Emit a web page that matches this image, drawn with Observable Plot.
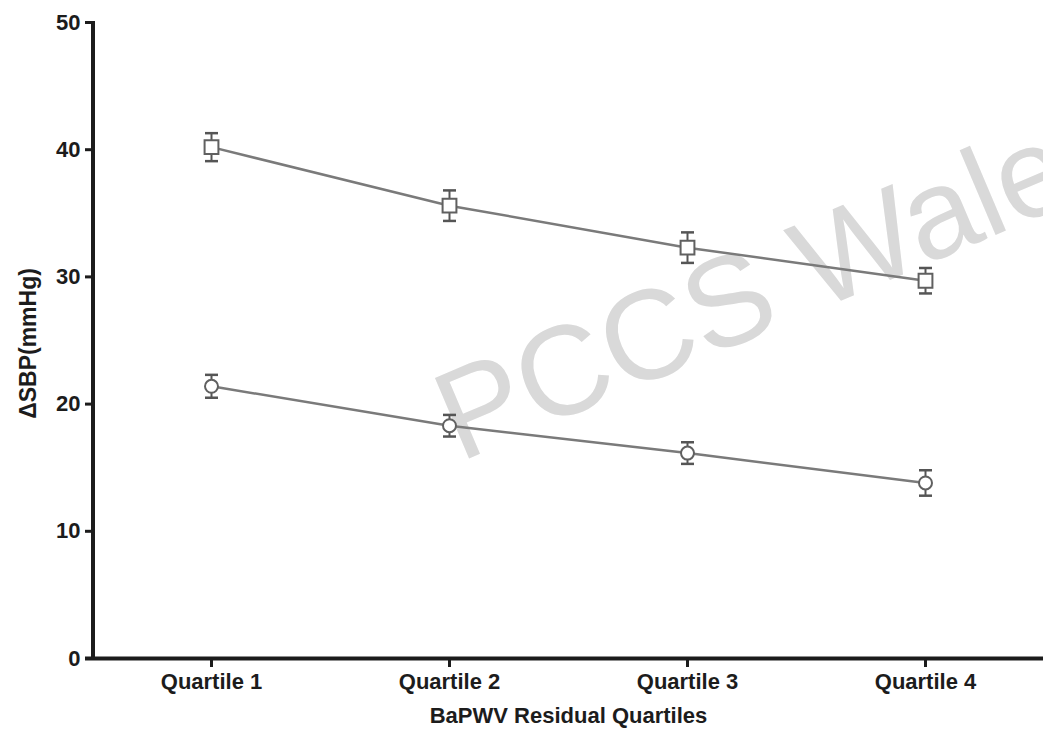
<!DOCTYPE html>
<html>
<head>
<meta charset="utf-8">
<script src="https://cdn.jsdelivr.net/npm/d3@7"></script>
<script src="https://cdn.jsdelivr.net/npm/@observablehq/plot@0.6"></script>
<style>
  html, body { margin: 0; padding: 0; background: #ffffff; }
  #chart svg { display: block; }
</style>
</head>
<body>
<div id="chart"></div>
<script>
// ---- data ----
const categories = ["Quartile 1", "Quartile 2", "Quartile 3", "Quartile 4"];
const squareMean = [40.2, 35.6, 32.3, 29.7];
const squareErr  = [1.1, 1.2, 1.2, 1.0];
const circleMean = [21.4, 18.3, 16.15, 13.8];
const circleErr  = [0.9, 0.85, 0.85, 1.0];
const yTicks = [0, 10, 20, 30, 40, 50];
const yLabel = "ΔSBP(mmHg)";
const xLabel = "BaPWV Residual Quartiles";
const watermark = "PCCS Wales";

const rows = [
  ...categories.map((q, i) => ({q, mean: squareMean[i], err: squareErr[i], series: "square"})),
  ...categories.map((q, i) => ({q, mean: circleMean[i], err: circleErr[i], series: "circle"}))
];
const squares = rows.filter(d => d.series === "square");
const circles = rows.filter(d => d.series === "circle");

// horizontal cap symbol for error bars
const capSymbol = {
  draw(context, size) {
    const w = Math.sqrt(size / Math.PI);
    context.moveTo(-w, 0);
    context.lineTo(w, 0);
  }
};

const font = "'Liberation Sans', Arial, Helvetica, sans-serif";

const yAxisLine = (index, scales, values, dimensions) => {
  const y = scales.y;
  return d3.create("svg:line")
    .attr("x1", dimensions.marginLeft)
    .attr("x2", dimensions.marginLeft)
    .attr("y1", y(d3.max(yTicks)) - 1)
    .attr("y2", y(0) + 2)
    .attr("stroke", "#1c1c1c")
    .attr("stroke-width", 4)
    .node();
};

const plot = Plot.plot({
  width: 1043,
  height: 729,
  marginLeft: 93,
  marginRight: 0,
  marginTop: 22,
  marginBottom: 71,
  style: {fontFamily: font, background: "#ffffff", color: "#1c1c1c"},
  x: {type: "point", domain: categories, padding: 0.49},
  y: {domain: [0, 50]},
  marks: [
    // watermark
    Plot.text([watermark], {
      x: () => categories[1], y: () => 15.4, dx: 10,
      text: d => d, rotate: -23, textAnchor: "start", lineAnchor: "bottom",
      fontSize: 127, fill: "#d9d9d9", fontFamily: font
    }),
    // axes
    Plot.ruleY([0], {stroke: "#1c1c1c", strokeWidth: 4, insetLeft: -8}),
    yAxisLine,
    Plot.axisY({ticks: yTicks, tickSize: 8, tickPadding: 5, tickFormat: d => d,
      fontSize: 22, fontWeight: "bold", strokeWidth: 3, label: null}),
    Plot.axisX({tickSize: 9, tickPadding: 6, fontSize: 22, fontWeight: "bold",
      strokeWidth: 3, label: null}),
    Plot.text([yLabel], {frameAnchor: "left", rotate: -90, dx: -65, dy: 3, text: d => d,
      textAnchor: "middle", lineAnchor: "middle",
      fontSize: 23, fontWeight: "bold", fill: "#1c1c1c", letterSpacing: "1px"}),
    Plot.text([xLabel], {frameAnchor: "bottom", dy: 57, text: d => d,
      textAnchor: "middle", lineAnchor: "middle",
      fontSize: 22, fontWeight: "bold", fill: "#1c1c1c", letterSpacing: "1.4px"}),
    // connecting lines
    Plot.line(squares, {x: "q", y: "mean", stroke: "#7a7a7a", strokeWidth: 2.5}),
    Plot.line(circles, {x: "q", y: "mean", stroke: "#7a7a7a", strokeWidth: 2.5}),
    // error bars
    Plot.ruleX(rows, {x: "q", y1: d => d.mean - d.err, y2: d => d.mean + d.err, stroke: "#555", strokeWidth: 2}),
    Plot.dot(rows, {x: "q", y: d => d.mean + d.err, symbol: capSymbol, r: 6.5, stroke: "#555", strokeWidth: 2.5}),
    Plot.dot(rows, {x: "q", y: d => d.mean - d.err, symbol: capSymbol, r: 6.5, stroke: "#555", strokeWidth: 2.5}),
    // markers
    Plot.dot(squares, {x: "q", y: "mean", symbol: "square", r: 7.8, fill: "#ffffff", stroke: "#606060", strokeWidth: 2}),
    Plot.dot(circles, {x: "q", y: "mean", symbol: "circle", r: 6.5, fill: "#ffffff", stroke: "#606060", strokeWidth: 2})
  ]
});

document.getElementById("chart").appendChild(plot);
</script>
</body>
</html>
